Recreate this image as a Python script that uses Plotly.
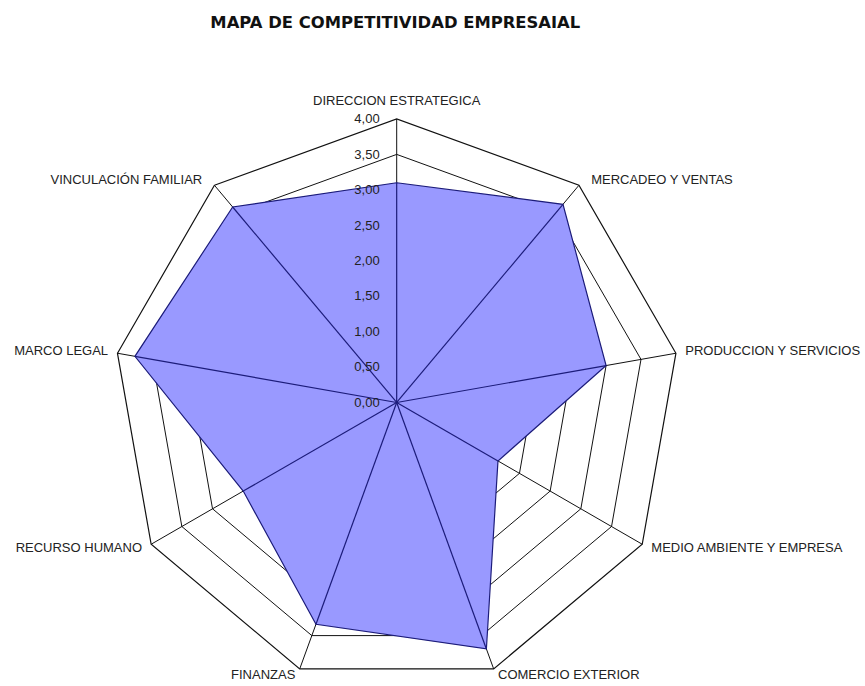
import plotly.graph_objects as go

categories = ["DIRECCION ESTRATEGICA", "MERCADEO Y VENTAS", "PRODUCCION Y SERVICIOS",
              "MEDIO AMBIENTE Y EMPRESA", "COMERCIO EXTERIOR", "FINANZAS",
              "RECURSO HUMANO", "MARCO LEGAL", "VINCULACIÓN FAMILIAR"]
values = [3.10, 3.65, 3.00, 1.65, 3.70, 3.33, 2.50, 3.75, 3.60]
tick_vals = [0, 0.5, 1.0, 1.5, 2.0, 2.5, 3.0, 3.5, 4.0]
tick_text = ["0,00", "0,50", "1,00", "1,50", "2,00", "2,50", "3,00", "3,50", "4,00"]

NB = "\u00a0"


def lab(s):
    return "<span style='font-size:13px'>" + s + "</span>"


# category labels with a little spacing from the outer polygon
cat_labels = [
    lab("DIRECCION ESTRATEGICA") + "<br>" + NB,
    lab(NB * 3 + "MERCADEO Y VENTAS"),
    lab(NB * 2 + "PRODUCCION Y SERVICIOS"),
    lab(NB * 2 + "MEDIO AMBIENTE Y EMPRESA"),
    lab(NB + "COMERCIO EXTERIOR"),
    lab("FINANZAS" + NB),
    lab("RECURSO HUMANO" + NB * 2),
    lab("MARCO LEGAL" + NB * 2),
    lab("VINCULACIÓN FAMILIAR" + NB * 3),
]

NAVY = "#1c1c7a"
fig = go.Figure()
fig.add_trace(go.Scatterpolar(
    r=values + [values[0]], theta=categories + [categories[0]],
    mode="lines", fill="toself", fillcolor="#9999FF",
    line=dict(color=NAVY, width=1.2), showlegend=False, hoverinfo="skip"))
for c, v in zip(categories, values):
    fig.add_trace(go.Scatterpolar(
        r=[0, v], theta=[c, c], mode="lines",
        line=dict(color=NAVY, width=1.2), showlegend=False, hoverinfo="skip"))

fig.update_layout(
    width=865, height=686,
    margin=dict(l=0, r=0, t=0, b=0),
    paper_bgcolor="white",
    font=dict(family="Liberation Sans, Arial, sans-serif", size=13, color="#222"),
    title=dict(text="<b>MAPA DE COMPETITIVIDAD EMPRESAIAL</b>",
               x=0.457, xanchor="center", y=0.968, yanchor="middle",
               font=dict(family="DejaVu Sans, sans-serif", size=16.4, color="#111")),
    polar=dict(
        domain=dict(x=[0.1306, 0.7866], y=[0.0, 0.8266]),
        bgcolor="white",
        gridshape="linear",
        angularaxis=dict(direction="clockwise", rotation=90,
                         tickmode="array", tickvals=categories, ticktext=cat_labels,
                         showline=True, linecolor="#111", linewidth=1.2,
                         showgrid=True, gridcolor="#111", gridwidth=1,
                         ticks="", tickfont=dict(size=8, color="#222")),
        radialaxis=dict(range=[0, 4], angle=90, side="counterclockwise",
                        tickvals=tick_vals, ticktext=tick_text, tickangle=90,
                        ticks="outside", ticklen=12, tickcolor="rgba(0,0,0,0)",
                        showline=False, showgrid=True, gridcolor="#111", gridwidth=1,
                        tickfont=dict(size=13, color="#222")),
    ),
)
fig.write_html("out.html", config={"displayModeBar": False},
               post_script="document.body.style.margin='0px';")
